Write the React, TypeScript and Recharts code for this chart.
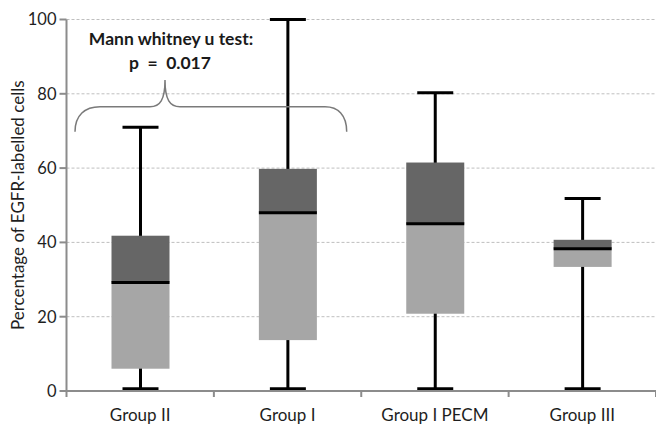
import { ComposedChart, Bar, XAxis, YAxis, CartesianGrid } from "recharts";

const categories = ["Group II", "Group I", "Group I PECM", "Group III"];
const minVals = [0.6, 0.6, 0.6, 0.6];
const q1Vals = [6, 13.7, 20.8, 33.4];
const medianVals = [29.2, 48, 45, 38.3];
const q3Vals = [41.8, 59.8, 61.5, 40.7];
const maxVals = [71, 100, 80.3, 51.8];
const yTicks = [0, 20, 40, 60, 80, 100];

const data = categories.map((group, i) => ({
  group,
  range: [minVals[i], maxVals[i]],
  base: q1Vals[i],
  lower: medianVals[i] - q1Vals[i],
  upper: q3Vals[i] - medianVals[i],
}));

const FONT = "Lato, 'Open Sans', sans-serif";
const AXIS = "#8c8c8c";

function Whisker({ x, y, width, height }: any) {
  const cx = x + width / 2;
  const cap = 36;
  return (
    <g>
      <line x1={cx} x2={cx} y1={y} y2={y + height} stroke="#000" strokeWidth={3} />
      <line x1={cx - cap / 2} x2={cx + cap / 2} y1={y} y2={y} stroke="#000" strokeWidth={3} />
      <line x1={cx - cap / 2} x2={cx + cap / 2} y1={y + height} y2={y + height} stroke="#000" strokeWidth={3} />
    </g>
  );
}

function LowerBox({ x, y, width, height }: any) {
  return <rect x={x} y={y} width={width} height={height} fill="#a6a6a6" />;
}

function UpperBox({ x, y, width, height }: any) {
  return (
    <g>
      <rect x={x} y={y} width={width} height={height} fill="#666666" />
      <line x1={x} x2={x + width} y1={y + height} y2={y + height} stroke="#000" strokeWidth={3} />
    </g>
  );
}

function GroupTick({ x, y, payload, index }: any) {
  const off = payload?.offset ?? 0;
  return (
    <g>
      <line x1={x - off} x2={x - off} y1={y} y2={y + 6} stroke={AXIS} strokeWidth={2} />
      {index === categories.length - 1 && (
        <line x1={x + off} x2={x + off} y1={y} y2={y + 6} stroke={AXIS} strokeWidth={2} />
      )}
      <text x={x} y={y + 29.5} textAnchor="middle" fill="#1e1e1e" fontSize={17} fontFamily={FONT}>
        {payload.value}
      </text>
    </g>
  );
}

function YLabel({ viewBox }: any) {
  const cy = viewBox.y + viewBox.height / 2;
  return (
    <text
      x={24}
      y={cy}
      transform={`rotate(-90 24 ${cy})`}
      textAnchor="middle"
      fill="#1e1e1e"
      fontSize={17}
      fontFamily={FONT}
    >
      Percentage of EGFR-labelled cells
    </text>
  );
}

export default function App() {
  return (
    <div style={{ position: "absolute", left: 0, top: 0, width: 656, height: 431, background: "#fff" }}>
      <ComposedChart
        width={656}
        height={431}
        data={data}
        barSize={58}
        barGap={-58}
        margin={{ top: 19.5, right: 0, bottom: 0, left: 0 }}
      >
        <CartesianGrid vertical={false} stroke="#bfbfbf" strokeDasharray="3 2" />
        <XAxis
          dataKey="group"
          height={40}
          tickLine={false}
          tickSize={0}
          tickMargin={0}
          axisLine={{ stroke: AXIS, strokeWidth: 2 }}
          tick={<GroupTick />}
          interval={0}
        />
        <YAxis
          width={66.5}
          domain={[0, 100]}
          ticks={yTicks}
          tickSize={7}
          tickMargin={3}
          axisLine={{ stroke: AXIS, strokeWidth: 2 }}
          tickLine={{ stroke: AXIS, strokeWidth: 2 }}
          tick={{ fill: "#1e1e1e", fontSize: 16.5, fontFamily: FONT }}
          label={<YLabel />}
        />
        <Bar dataKey="range" shape={<Whisker />} isAnimationActive={false} />
        <Bar dataKey="base" stackId="box" fill="none" isAnimationActive={false} />
        <Bar dataKey="lower" stackId="box" shape={<LowerBox />} isAnimationActive={false} />
        <Bar dataKey="upper" stackId="box" shape={<UpperBox />} isAnimationActive={false} />
      </ComposedChart>
      <svg
        width={656}
        height={431}
        style={{ position: "absolute", left: 0, top: 0, pointerEvents: "none" }}
      >
        <path
          d="M75,131.7 C75,115 85,106.7 100,106.7 L150,106.7 C160,106.7 165,100 165,80 C165,100 170,106.7 180,106.7 L325,106.7 C338,106.7 346.7,115 346.7,131.7"
          fill="none"
          stroke="#7a7a7a"
          strokeWidth={1.5}
        />
        <text x={171} y={45} textAnchor="middle" fontSize={17.5} fontWeight="bold" fill="#1a1a1a" fontFamily={FONT}>
          Mann whitney u test:
        </text>
        <text
          x={170}
          y={69}
          textAnchor="middle"
          fontSize={17.5}
          fontWeight="bold"
          fill="#1a1a1a"
          fontFamily={FONT}
          style={{ whiteSpace: "pre" }}
        >
          {"p  =  0.017"}
        </text>
      </svg>
    </div>
  );
}
